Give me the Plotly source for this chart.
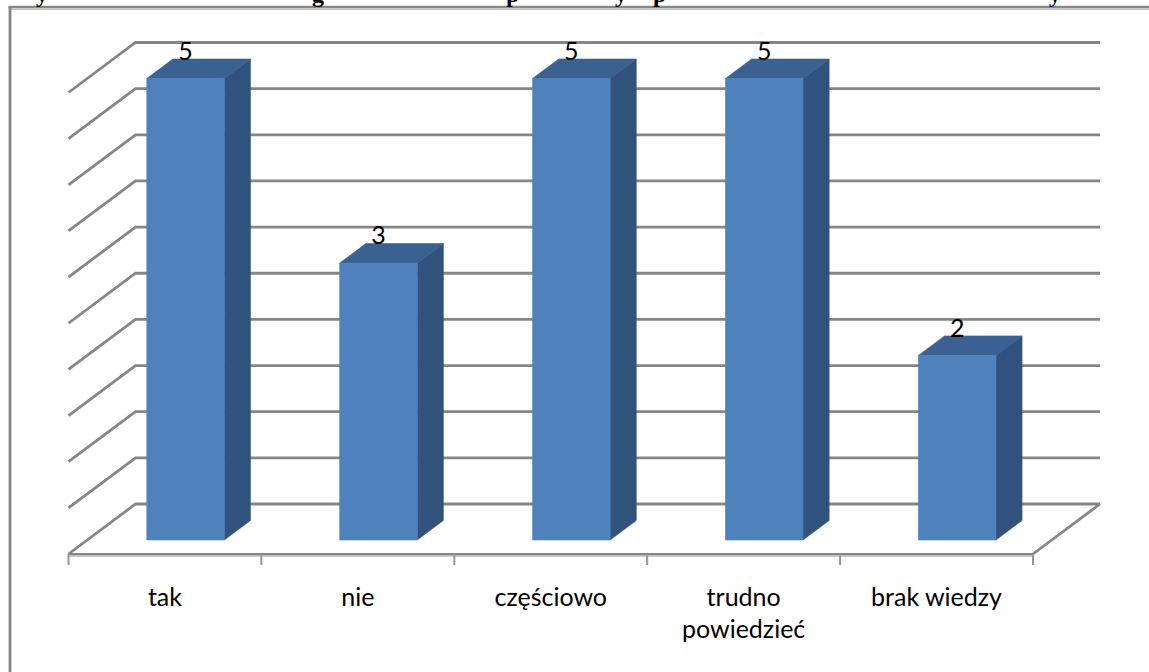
import plotly.graph_objects as go

categories_line1 = ["tak", "nie", "częściowo", "trudno", "brak wiedzy"]
categories_line2 = ["", "", "", "powiedzieć", ""]
values = [5, 3, 5, 5, 2]
value_ticks = [0, 0.5, 1, 1.5, 2, 2.5, 3, 3.5, 4, 4.5, 5]
clipped_title_letters = ["y", "g", "p", "y", "p", "y"]
clipped_title_px = [42, 318, 512, 621, 659, 1055]

W, H = 1149, 672
X0, CAT_W = 68.5, 192.9      # px of category origin, px per category
Y0, VAL_H = 554.0, 92.3      # px of floor front line, px per value unit
DEPTH_X, DEPTH_Y = 67.0, 50.0

GRID = "#868686"
FRONT, SIDE, TOP = "#4F81BD", "#31527C", "#3A6191"
FONT = "Lato"
FS = 25

dux = DEPTH_X / CAT_W
dvy = DEPTH_Y / VAL_H


def proj(u, v, d):
    return u + d * dux, v + d * dvy


fig = go.Figure()


def poly(points, fill):
    xs, ys = zip(*points)
    fig.add_trace(go.Scatter(x=list(xs) + [xs[0]], y=list(ys) + [ys[0]], mode="lines",
                             fill="toself", fillcolor=fill, line=dict(width=0.6, color=fill),
                             hoverinfo="skip", showlegend=False))


n = len(values)
# gridlines on the back wall and left wall
gx, gy = [], []
for t in value_ticks:
    a = proj(0, t, 0)
    b = proj(0, t, 1)
    c = proj(n, t, 1)
    gx += [a[0], b[0], c[0], None]
    gy += [a[1], b[1], c[1], None]
# floor edges
a = proj(n, 0, 0)
b = proj(n, 0, 1)
gx += [a[0], b[0], None]
gy += [a[1], b[1], None]
fig.add_trace(go.Scatter(x=gx, y=gy, mode="lines", line=dict(color=GRID, width=2.8),
                         hoverinfo="skip", showlegend=False))

# front floor line (shadow, then line) and ticks
tick_len = 11 / VAL_H
fig.add_trace(go.Scatter(x=[0, n], y=[-1.8 / VAL_H] * 2, mode="lines",
                         line=dict(color="#BDBDBD", width=2), hoverinfo="skip", showlegend=False))
fig.add_trace(go.Scatter(x=[0, n], y=[0, 0], mode="lines",
                         line=dict(color=GRID, width=2.2), hoverinfo="skip", showlegend=False))
tx, ty = [], []
for k in range(n + 1):
    tx += [k, k, None]
    ty += [0, -tick_len, None]
fig.add_trace(go.Scatter(x=tx, y=ty, mode="lines", line=dict(color="#969696", width=2),
                         hoverinfo="skip", showlegend=False))

# 3-D looking bars
BAR_L, BAR_W = 0.3085, 0.402
D0, D1 = 0.28, 0.67
for i, v in enumerate(values):
    l, r = i + BAR_L, i + BAR_L + BAR_W
    poly([proj(r, 0, D0), proj(r, 0, D1), proj(r, v, D1), proj(r, v, D0)], SIDE)
    poly([proj(l, v, D0), proj(r, v, D0), proj(r, v, D1), proj(l, v, D1)], TOP)
    poly([proj(l, 0, D0), proj(r, 0, D0), proj(r, v, D0), proj(l, v, D0)], FRONT)

# value labels, just above the front face top
lab_x, lab_y = [], []
for i, v in enumerate(values):
    p = proj(i + BAR_L + BAR_W / 2, v + 25 / VAL_H, D0)
    lab_x.append(p[0])
    lab_y.append(p[1])
fig.add_trace(go.Scatter(x=lab_x, y=lab_y, mode="text", text=[str(v) for v in values],
                         textposition="middle center",
                         textfont=dict(family=FONT, size=FS, color="#000000"),
                         hoverinfo="skip", showlegend=False))

# category labels
centers = [i + 0.5 for i in range(n)]
for labels, py in ((categories_line1, 600), (categories_line2, 632)):
    fig.add_trace(go.Scatter(x=centers, y=[(Y0 - py) / VAL_H] * n, mode="text", text=labels,
                             textposition="middle center",
                             textfont=dict(family=FONT, size=FS, color="#000000"),
                             hoverinfo="skip", showlegend=False))

# page frame: top and left rule only
shapes = [
    dict(type="line", xref="paper", yref="paper", x0=10 / W, x1=1, y0=1 - 9.2 / H, y1=1 - 9.2 / H,
         line=dict(color="#C4C4C4", width=1.4)),
    dict(type="line", xref="paper", yref="paper", x0=8.5 / W, x1=1, y0=1 - 7 / H, y1=1 - 7 / H,
         line=dict(color="#888888", width=2.6)),
    dict(type="line", xref="paper", yref="paper", x0=10 / W, x1=10 / W, y0=0, y1=1 - 7 / H,
         line=dict(color="#888888", width=2.8)),
]

# title above the crop: only the descenders of these letters show
annotations = [
    dict(text="<b>" + t + "</b>", xref="paper", yref="paper", x=px / W, y=1 - 7.5 / H, xanchor="center", yanchor="bottom",
         showarrow=False, borderpad=0,
         font=dict(family="Liberation Serif", size=24, color="#000000"))
    for t, px in zip(clipped_title_letters, clipped_title_px)
]

fig.update_layout(
    width=W, height=H,
    margin=dict(l=0, r=0, t=0, b=0, autoexpand=False),
    paper_bgcolor="#FFFFFF", plot_bgcolor="#FFFFFF",
    showlegend=False,
    shapes=shapes, annotations=annotations,
    xaxis=dict(range=[-X0 / CAT_W, (W - X0) / CAT_W], visible=False, domain=[0, 1]),
    yaxis=dict(range=[(Y0 - H) / VAL_H, Y0 / VAL_H], visible=False, domain=[0, 1]),
)
fig.write_html("out.html", config={"displayModeBar": False},
               post_script="document.body.style.margin='0';document.documentElement.style.overflow='hidden';")
